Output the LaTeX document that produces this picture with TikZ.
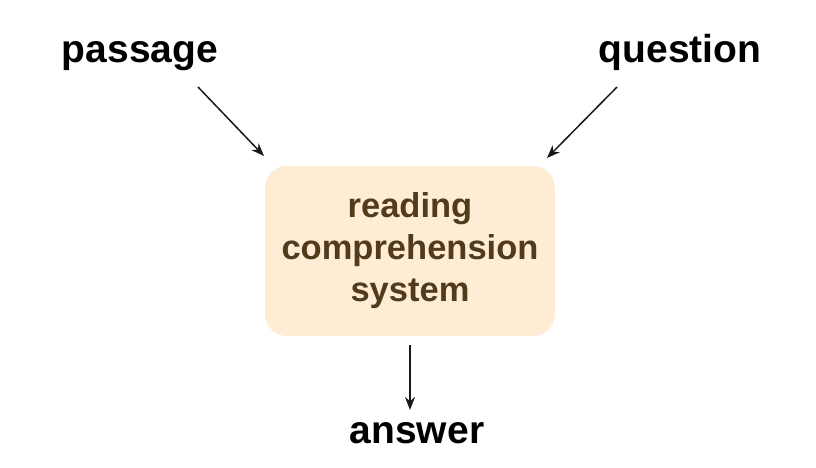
\documentclass[tikz,border=0pt]{standalone}
\usepackage{fontspec}
\setmainfont{Liberation Sans}
\usetikzlibrary{arrows.meta}
\definecolor{boxfill}{RGB}{254,237,212}
\definecolor{boxtext}{RGB}{82,58,28}
\definecolor{arrowcol}{RGB}{25,25,25}
\tikzset{
  lbl/.style={font=\fontsize{39}{44}\selectfont\bfseries, text=black, inner sep=0pt, anchor=base},
  sysbox/.style={fill=boxfill, rounded corners=22pt, minimum width=290pt, minimum height=170pt, align=center,
     font=\fontsize{34.5}{42}\selectfont\bfseries, text=boxtext, inner sep=0pt},
  conn/.style={draw=arrowcol, line width=1.5pt, -{Stealth[length=13pt,width=10pt]}}
}
\begin{document}
\begin{tikzpicture}[x=1pt,y=-1pt]
\useasboundingbox (0,0) rectangle (816,467);
\fill[white] (0,0) rectangle (816,467);
\node[lbl] (passage) at (140,62) {passage};
\node[lbl] (question) at (680,62) {question};
\node[lbl] (answer) at (417,443) {answer};
\node[sysbox] (sys) at (410,251) {reading\\comprehension\\system};
\coordinate (ps) at (198,87);
\coordinate (pe) at (264,156);
\coordinate (qs) at (617,87);
\coordinate (qe) at (547,158);
\coordinate (as) at (410,345);
\coordinate (ae) at (410,410);
\draw[conn] (ps) -- (pe);
\draw[conn] (qs) -- (qe);
\draw[conn] (as) -- (ae);
\end{tikzpicture}
\end{document}
